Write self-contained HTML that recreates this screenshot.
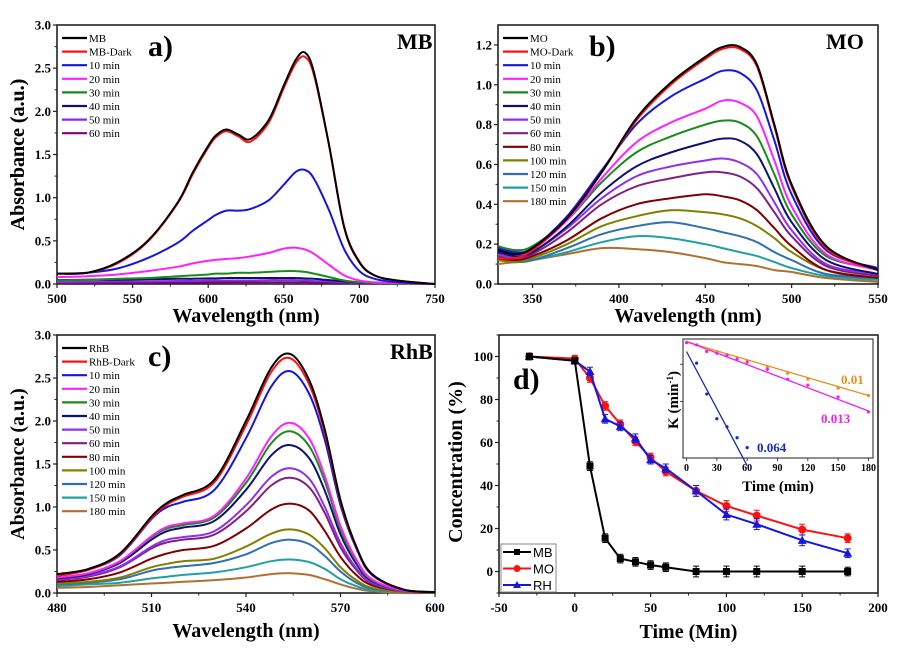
<!DOCTYPE html>
<html><head><meta charset="utf-8">
<style>
html,body{margin:0;padding:0;background:#fff;}
svg{display:block;font-family:"Liberation Serif",serif;}
.tick{font-weight:bold;font-size:13px;}
.ttl{font-weight:bold;font-size:20px;}
.leg{font-size:11px;}
</style></head>
<body>
<svg id="fig" width="899" height="649" viewBox="0 0 899 649" xmlns="http://www.w3.org/2000/svg"></svg>
<script>
// ---------- Panel a data ----------
const aWl = [500,520,540,560,580,590,600,605,612,620,628,640,650,658,664,670,680,690,700,710,725,750];
const aNames = ["MB","MB-Dark","10 min","20 min","30 min","40 min","50 min","60 min"];
const aMB   = [0.12,0.13,0.25,0.5,0.95,1.3,1.6,1.72,1.79,1.73,1.68,1.9,2.3,2.6,2.68,2.45,1.6,0.65,0.25,0.1,0.04,0];
const aDark = [0.12,0.13,0.24,0.49,0.94,1.28,1.58,1.7,1.77,1.71,1.65,1.87,2.27,2.56,2.63,2.42,1.6,0.66,0.26,0.1,0.04,0];
const a10   = [0.12,0.13,0.18,0.3,0.48,0.62,0.74,0.8,0.85,0.85,0.87,0.97,1.15,1.3,1.32,1.22,0.85,0.4,0.15,0.06,0.02,0];
const a20   = [0.08,0.09,0.11,0.15,0.2,0.24,0.27,0.28,0.29,0.3,0.32,0.36,0.41,0.42,0.4,0.35,0.22,0.1,0.04,0.02,0.01,0];
const a30   = [0.04,0.05,0.06,0.07,0.09,0.1,0.11,0.12,0.12,0.13,0.13,0.14,0.15,0.15,0.14,0.12,0.08,0.04,0.02,0.01,0,0];
const a40   = [0.045,0.05,0.05,0.055,0.06,0.06,0.065,0.065,0.07,0.07,0.07,0.07,0.07,0.07,0.065,0.06,0.045,0.03,0.015,0.01,0,0];
const a50   = [0.02,0.025,0.03,0.03,0.035,0.035,0.04,0.04,0.04,0.04,0.04,0.045,0.045,0.045,0.04,0.035,0.03,0.02,0.01,0.005,0,0];
const a60   = [0.01,0.012,0.014,0.015,0.016,0.017,0.018,0.018,0.019,0.02,0.02,0.02,0.02,0.02,0.02,0.018,0.015,0.01,0.005,0.003,0,0];
const aColors = ["#000000","#ff1010","#1515e0","#ff20ff","#1a8a1a","#101070","#8a2be2","#800080"];

// ---------- Panel b data ----------
const bWl = [330,340,350,370,390,410,430,450,460,470,480,490,500,520,550];
const bNames = ["MO","MO-Dark","10 min","20 min","30 min","40 min","50 min","60 min","80 min","100 min","120 min","150 min","180 min"];
const bMO   = [.17,.15,.18,.33,.56,.83,1.01,1.14,1.19,1.19,1.1,.8,.5,.19,.07];
const bDark = [.13,.13,.17,.33,.56,.82,1.0,1.13,1.18,1.18,1.09,.79,.49,.18,.07];
const b10  = [.18,.16,.18,.34,.57,.80,.94,1.03,1.07,1.06,.97,.72,.45,.17,.08];
const b20  = [.17,.15,.17,.32,.53,.71,.81,.88,.92,.91,.84,.62,.39,.15,.07];
const b30  = [.19,.17,.19,.32,.51,.66,.74,.80,.82,.81,.74,.55,.35,.14,.08];
const b40  = [.16,.14,.16,.29,.46,.59,.66,.71,.73,.72,.65,.48,.31,.12,.05];
const b50  = [.15,.13,.16,.28,.43,.54,.59,.62,.63,.61,.55,.41,.27,.10,.05];
const b60  = [.14,.13,.15,.26,.40,.49,.53,.56,.56,.54,.48,.36,.24,.09,.04];
const b80  = [.13,.12,.14,.22,.33,.40,.43,.45,.44,.42,.37,.28,.19,.07,.03];
const b100 = [.12,.11,.13,.20,.29,.34,.37,.36,.35,.33,.29,.23,.16,.07,.03];
const b120 = [.12,.11,.12,.18,.25,.29,.31,.28,.26,.24,.21,.16,.12,.05,.03];
const b150 = [.12,.11,.12,.16,.21,.24,.23,.20,.18,.16,.14,.11,.08,.04,.02];
const b180 = [.10,.11,.12,.15,.18,.175,.16,.13,.11,.10,.09,.07,.06,.03,.01];
const specColors = ["#000000","#ff1010","#1515e0","#ff20ff","#1a8a1a","#101070","#9030e8","#802080","#800000","#808000","#3070b0","#20a0a0","#b07030"];

// ---------- Panel c data ----------
const cWl = [480,490,500,510,515,520,530,540,548,554,560,565,570,575,580,590,600];
const cNames = ["RhB","RhB-Dark","10 min","20 min","30 min","40 min","50 min","60 min","80 min","100 min","120 min","150 min","180 min"];
const cRhB  = [.22,.28,.46,.89,1.05,1.14,1.32,2.0,2.62,2.78,2.48,1.9,1.08,.54,.22,.04,.01];
const cDark = [.20,.27,.45,.87,1.03,1.12,1.29,1.95,2.57,2.73,2.43,1.86,1.06,.53,.22,.04,.01];
const c10  = [.20,.27,.44,.86,1.0,1.06,1.2,1.8,2.4,2.58,2.32,1.78,1.02,.52,.21,.04,.01];
const c20  = [.18,.23,.37,.66,.77,.81,.9,1.33,1.82,1.98,1.8,1.36,.78,.39,.16,.03,.01];
const c30  = [.18,.23,.37,.65,.75,.79,.88,1.28,1.74,1.88,1.71,1.3,.74,.37,.15,.03,.01];
const c40  = [.17,.22,.35,.62,.72,.76,.84,1.2,1.6,1.72,1.57,1.19,.68,.34,.14,.03,.01];
const c50  = [.16,.20,.31,.54,.62,.65,.72,1.02,1.35,1.45,1.33,1.0,.58,.29,.12,.02,.01];
const c60  = [.15,.19,.30,.52,.59,.62,.68,.95,1.25,1.34,1.23,.93,.53,.27,.11,.02,.01];
const c80  = [.13,.16,.24,.40,.46,.50,.55,.75,.97,1.04,.96,.72,.42,.21,.09,.02,.01];
const c100 = [.11,.13,.18,.30,.34,.37,.40,.54,.69,.74,.68,.52,.30,.15,.06,.01,0];
const c120 = [.10,.12,.16,.26,.29,.31,.35,.45,.58,.62,.57,.43,.25,.12,.05,.01,0];
const c150 = [.08,.10,.12,.17,.19,.21,.24,.30,.37,.39,.36,.28,.16,.08,.03,.01,0];
const c180 = [.06,.07,.09,.11,.12,.13,.15,.18,.22,.23,.21,.16,.10,.05,.02,0,0];

// ---------- Panel d data ----------
const dTime = [-30,0,10,20,30,40,50,60,80,100,120,150,180];
const dMB = [100,98,49,15.5,6,4.5,3,2,0,0,0,0,0];
const dMO = [100,99,90,77,68.5,60.5,53,46.5,37.5,30.5,26,19.5,15.5];
const dRH = [100,98,93,71,67.5,62,52,48,37.5,26.5,22,14.5,8.5];
const dErr = [1.5,1.5,2,2,2,2,2,2,2.5,2.5,2.5,2.5,2];
const dXTicks = [-50,0,50,100,150,200];
const dYTicks = [0,20,40,60,80,100];

// ---------- Inset data ----------
const iTime = [0,10,20,30,40,50,60,80,100,120,150,180];
const iMO = [0.03,-0.05,-0.2,-0.3,-0.38,-0.5,-0.6,-0.8,-1.0,-1.2,-1.5,-1.75];
const iRH = [0.03,-0.05,-0.27,-0.33,-0.4,-0.53,-0.63,-0.87,-1.2,-1.4,-1.8,-2.3];
const iMBTime = [10,20,30,40,50,60];
const iMB = [-0.66,-1.7,-2.53,-2.8,-3.17,-3.5];
const kRates = [0.01,0.013,0.064];
const kIntercepts = [0.05,0.07,-0.27];
const kEnds = [180,180,60];
const kLabels = ["0.01","0.013","0.064"];
const iXTicks = [0,30,60,90,120,150,180];

const NS="http://www.w3.org/2000/svg";
const fig=document.getElementById('fig');
function mk(tag,attrs,parent){const e=document.createElementNS(NS,tag);for(const k in attrs)e.setAttribute(k,attrs[k]);(parent||fig).appendChild(e);return e;}
function smooth(pts){let d="M"+pts[0][0].toFixed(1)+","+pts[0][1].toFixed(1);
 for(let i=0;i<pts.length-1;i++){const p0=pts[Math.max(0,i-1)],p1=pts[i],p2=pts[i+1],p3=pts[Math.min(pts.length-1,i+2)];
 const c1=[p1[0]+(p2[0]-p0[0])/6,p1[1]+(p2[1]-p0[1])/6],c2=[p2[0]-(p3[0]-p1[0])/6,p2[1]-(p3[1]-p1[1])/6];
 d+=" C"+c1[0].toFixed(1)+","+c1[1].toFixed(1)+" "+c2[0].toFixed(1)+","+c2[1].toFixed(1)+" "+p2[0].toFixed(1)+","+p2[1].toFixed(1);}return d;}

function axesFrame(g,L,T,R,B,xmin,xmax,ymin,ymax,xt,yt,xminor,yminor,yfmt,pfx){
 const sx=v=>L+(v-xmin)/(xmax-xmin)*(R-L), sy=v=>B-(v-ymin)/(ymax-ymin)*(B-T);
 const fr=mk('rect',{x:L,y:T,width:R-L,height:B-T,fill:'none',stroke:'#222','stroke-width':1.6},g);
 
 
 xt.forEach(v=>{mk('line',{x1:sx(v),x2:sx(v),y1:B,y2:B+4,stroke:'#222','stroke-width':1.2},g);
  const t=mk('text',{x:sx(v),y:B+19,'text-anchor':'middle',class:'tick'},g);t.textContent=String(v);
  
  });
 xminor.forEach(v=>mk('line',{x1:sx(v),x2:sx(v),y1:B,y2:B+2.5,stroke:'#222','stroke-width':1},g));
 yt.forEach(v=>{mk('line',{x1:L-4,x2:L,y1:sy(v),y2:sy(v),stroke:'#222','stroke-width':1.2},g);
  const t=mk('text',{x:L-6,y:sy(v)+4.5,'text-anchor':'end',class:'tick'},g);t.textContent=yfmt(v);
  
  });
 yminor.forEach(v=>mk('line',{x1:L-2.5,x2:L,y1:sy(v),y2:sy(v),stroke:'#222','stroke-width':1},g));
 return [sx,sy];
}
function titles(g,cx,ty,xt,yx,cy,yt,pfx){
 const a=mk('text',{x:cx,y:ty,'text-anchor':'middle',class:'ttl'},g);a.textContent=xt;
 
 
 const b=mk('text',{x:yx,y:cy,'text-anchor':'middle',class:'ttl',transform:`rotate(-90 ${yx} ${cy})`},g);b.textContent=yt;
 
 
}
function label(g,x,y,txt,size,name){const t=mk('text',{x:x,y:y,'font-weight':'bold','font-size':size},g);t.textContent=txt;
 
 }

function spectraPanel(pfx,L,T,R,B,xmin,xmax,ymax,xt,yt,xminor,yminor,yfmt,wl,series,names,colors,letter,tag,xt_ty,tagX){
 const g=mk('g',{});
 
 
 const [sx,sy]=axesFrame(g,L,T,R,B,xmin,xmax,0,ymax,xt,yt,xminor,yminor,yfmt,pfx);
 const cg=mk('g',{},g);
 for(let s=series.length-1;s>=0;s--){
  const p=mk('path',{d:smooth(wl.map((w,i)=>[sx(w),sy(series[s][i])])),fill:'none',stroke:colors[s],'stroke-width':2},cg);
  
  
 }
 names.forEach((n,i)=>{const y=T+13+i*13.6;
  mk('line',{x1:L+5,x2:L+30,y1:y,y2:y,stroke:colors[i],'stroke-width':2.2},g);
  const t=mk('text',{x:L+32,y:y+4,class:'leg'},g);t.textContent=n;
  
  });
 label(g,L+91,T+31,letter,30,pfx+'-panel-letter');
 label(g,tagX,T+24,tag,22,pfx+'-sample-tag');
 titles(g,(L+R)/2,xt_ty,'Wavelength (nm)',24,(T+B)/2,'Absorbance (a.u.)',pfx);
}
const f1=v=>v.toFixed(1);
spectraPanel('a',57,25,435,284,500,750,3.0,[500,550,600,650,700,750],[0,0.5,1,1.5,2,2.5,3],[525,575,625,675,725],[0.25,0.75,1.25,1.75,2.25,2.75],f1,
 aWl,[aMB,aDark,a10,a20,a30,a40,a50,a60],aNames,aColors,'a)','MB',322,397);
spectraPanel('b',498,25,878,284,330,550,1.3,[350,400,450,500,550],[0,0.2,0.4,0.6,0.8,1.0,1.2],[375,425,475,525],[0.1,0.3,0.5,0.7,0.9,1.1],f1,
 bWl,[bMO,bDark,b10,b20,b30,b40,b50,b60,b80,b100,b120,b150,b180],bNames,specColors,'b)','MO',322,826);
spectraPanel('c',57,335,435,593,480,600,3.0,[480,510,540,570,600],[0,0.5,1,1.5,2,2.5,3],[495,525,555,585],[0.25,0.75,1.25,1.75,2.25,2.75],f1,
 cWl,[cRhB,cDark,c10,c20,c30,c40,c50,c60,c80,c100,c120,c150,c180],cNames,specColors,'c)','RhB',637,390);

// ---------- Panel d ----------
(function(){
 const g=mk('g',{});
 
 
 const L=499,T=335,R=878,B=593;
 const [sx,sy]=axesFrame(g,L,T,R,B,-50,200,-10,110,dXTicks,dYTicks,[-25,25,75,125,175],[-10,10,30,50,70,90,110],v=>String(v),'d');
 const sets=[[dMO,'#ff1010','mo'],[dRH,'#1515e0','rh'],[dMB,'#000','mb']];
 sets.forEach(([arr,col,nm])=>{
  const pts=dTime.map((t,i)=>[sx(t),sy(arr[i])]);
  const pl=mk('polyline',{points:pts.map(p=>p.join(',')).join(' '),fill:'none',stroke:col,'stroke-width':2},g);
  
  
  dTime.forEach((t,i)=>{const x=sx(t),y=sy(arr[i]),e=dErr[i]*2.15;
   mk('line',{x1:x,x2:x,y1:y-e,y2:y+e,stroke:col,'stroke-width':1},g);
   mk('line',{x1:x-3,x2:x+3,y1:y-e,y2:y-e,stroke:col,'stroke-width':1},g);
   mk('line',{x1:x-3,x2:x+3,y1:y+e,y2:y+e,stroke:col,'stroke-width':1},g);
   let m;
   if(nm==='mb') m=mk('rect',{x:x-3.5,y:y-3.5,width:7,height:7,fill:col},g);
   else if(nm==='mo') m=mk('circle',{cx:x,cy:y,r:4,fill:col},g);
   else m=mk('polygon',{points:`${x},${y-4.5} ${x-4.5},${y+3.5} ${x+4.5},${y+3.5}`,fill:col},g);
   
   
  });
 });
 // legend
 const lg=mk('g',{},g);
 
 
 mk('rect',{x:501,y:544,width:55,height:48,fill:'#fff',stroke:'#888','stroke-width':1},lg);
 [['MB','#000','s'],['MO','#ff1010','c'],['RH','#1515e0','t']].forEach(([n,c,s],i)=>{
  const y=552+i*16.5;
  mk('line',{x1:503,x2:531,y1:y,y2:y,stroke:c,'stroke-width':2},lg);
  if(s==='s')mk('rect',{x:514,y:y-3,width:6,height:6,fill:c},lg);
  else if(s==='c')mk('circle',{cx:517,cy:y,r:3.5,fill:c},lg);
  else mk('polygon',{points:`517,${y-4} 513,${y+3} 521,${y+3}`,fill:c},lg);
  const t=mk('text',{x:533,y:y+5,'font-family':'Liberation Sans, sans-serif','font-size':13},lg);t.textContent=n;
  
  
 });
 label(g,513,389,'d)',30,'d-panel-letter');
 const xt=mk('text',{x:(L+R)/2,y:638,'text-anchor':'middle',class:'ttl','font-size':22},g);xt.textContent='Time (Min)';
 
 
 const yt=mk('text',{x:462,y:462,'text-anchor':'middle',class:'ttl',transform:'rotate(-90 462 462)'},g);yt.textContent='Concentration (%)';
 
 

 // inset
 const ig=mk('g',{},g);
 
 
 const iL=683,iT=339,iR=873,iB=458,xmin=-3.5,xmax=184.5,ymin=-3.85,ymax=0.15;
 const ix=v=>iL+(v-xmin)/(xmax-xmin)*(iR-iL), iy=v=>iB-(v-ymin)/(ymax-ymin)*(iB-iT);
 mk('rect',{x:iL,y:iT,width:iR-iL,height:iB-iT,fill:'#fff',stroke:'#444','stroke-width':1.2},ig);
 iXTicks.forEach(v=>{mk('line',{x1:ix(v),x2:ix(v),y1:iB,y2:iB+3,stroke:'#444'},ig);
  const t=mk('text',{x:ix(v),y:iB+13,'text-anchor':'middle','font-weight':'bold','font-size':10},ig);t.textContent=String(v);
  
  });
 [-0.7,-1.95].forEach(v=>mk('line',{x1:iL-3,x2:iL,y1:iy(v),y2:iy(v),stroke:'#444'},ig));
 const icol=['#e8901e','#ee22ee','#1a2ab8'];
 kRates.forEach((k,i)=>{
  const l=mk('line',{x1:ix(0),y1:iy(kIntercepts[i]),x2:ix(kEnds[i]),y2:iy(kIntercepts[i]-k*kEnds[i]),stroke:icol[i],'stroke-width':1.3},ig);
  
  
 });
 [[iTime,iMO,0],[iTime,iRH,1],[iMBTime,iMB,2]].forEach(([ts,vs,ci])=>{
  ts.forEach((t,i)=>{const c=mk('circle',{cx:ix(t),cy:iy(vs[i]),r:1.6,fill:icol[ci]},ig);
   
   });
 });
 const kpos=[[841,384],[821,423],[757,452]];
 kLabels.forEach((s,i)=>{const t=mk('text',{x:kpos[i][0],y:kpos[i][1],'font-weight':'bold','font-size':13,fill:icol[i]},ig);t.textContent=s;
  
  });
 const ixt=mk('text',{x:778,y:491,'text-anchor':'middle','font-weight':'bold','font-size':15},ig);ixt.textContent='Time (min)';
 
 
 const iyt=mk('text',{x:678,y:400,'text-anchor':'middle','font-weight':'bold','font-size':15,transform:'rotate(-90 678 400)'},ig);
 iyt.innerHTML='K (min<tspan dy="-5" font-size="9">-1</tspan><tspan dy="5">)</tspan>';
 
 
})();
</script>
</body></html>
